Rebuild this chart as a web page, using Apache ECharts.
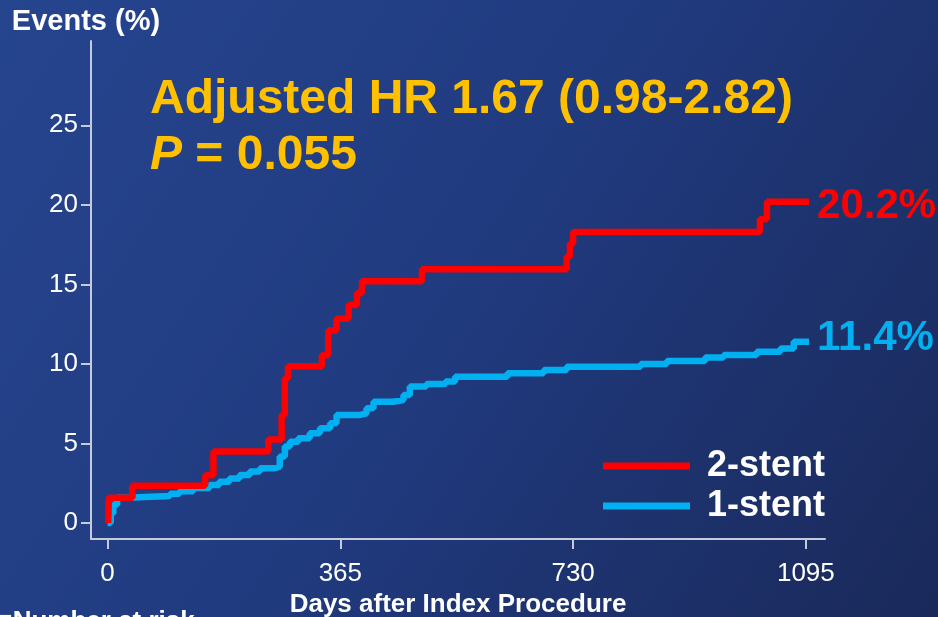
<!DOCTYPE html>
<html>
<head>
<meta charset="utf-8">
<style>
  html, body { margin: 0; padding: 0; }
  #chart { width: 938px; height: 617px; }
</style>
<script src="https://cdn.jsdelivr.net/npm/echarts@6/dist/echarts.min.js"></script>
</head>
<body>
<div id="chart"></div>
<script>
// Cumulative event rates (Kaplan-Meier style), days after index procedure
const twoStentDays = [1, 2, 39, 153, 166, 252, 273, 278, 283, 336, 346, 359, 378, 391, 399, 493, 720, 725, 730, 1023, 1034, 1100];
const twoStentPct  = [0, 1.6, 2.35, 3.0, 4.5, 5.25, 6.8, 9.1, 9.85, 10.55, 12.1, 12.85, 13.7, 14.45, 15.2, 15.95, 16.75, 17.55, 18.3, 19.1, 20.2, 20.2];

const oneStentDays = [0, 5, 9, 15, 30, 98, 113, 134, 160, 175, 191, 207, 223, 239, 262, 270, 278, 286, 299, 317, 333, 349, 359, 396, 406, 417, 448, 464, 474, 500, 530, 545, 627, 684, 720, 836, 877, 937, 966, 1018, 1055, 1076, 1100];
const oneStentPct  = [0, 0.6, 1.15, 1.6, 1.7, 1.85, 2.0, 2.2, 2.4, 2.6, 2.8, 3.03, 3.24, 3.45, 3.55, 4.18, 4.81, 5.12, 5.33, 5.65, 5.96, 6.28, 6.8, 6.9, 7.22, 7.63, 7.74, 8.05, 8.58, 8.74, 8.9, 9.2, 9.42, 9.62, 9.83, 10.0, 10.19, 10.4, 10.57, 10.77, 10.98, 11.4, 11.4];

const seriesNames = ['2-stent', '1-stent'];
const xTicks = [0, 365, 730, 1095];
const yTicks = [0, 5, 10, 15, 20, 25];

const zip = (xs, ys) => xs.map((x, i) => [x, ys[i]]);

const RED = '#FF0000';
const BLUE = '#00B0F0';
const GOLD = '#FFC000';
const AXIS = '#c5cbdc';
const FONT = '"Liberation Sans", Arial, sans-serif';

const chart = echarts.init(document.getElementById('chart'), null, { renderer: 'canvas' });

const endLabel = (color, offsetY) => ({
  show: true,
  color: color,
  fontFamily: FONT,
  fontWeight: 'bold',
  fontSize: 42,
  distance: 8,
  offset: [0, offsetY],
  formatter: p => p.value[1].toFixed(1) + '%'
});

chart.setOption({
  animation: false,
  backgroundColor: new echarts.graphic.LinearGradient(0, 0, 1, 1, [
    { offset: 0, color: '#26458f' },
    { offset: 0.5, color: '#203a7e' },
    { offset: 1, color: '#1a295a' }
  ]),
  textStyle: { fontFamily: FONT },
  title: {
    left: 150,
    top: 72,
    padding: 0,
    text: '{a|Adjusted HR 1.67 (0.98-2.82)}\n{i|P}{a| = 0.055}',
    textStyle: {
      rich: {
        a: { color: GOLD, fontFamily: FONT, fontWeight: 'bold', fontSize: 48, lineHeight: 56 },
        i: { color: GOLD, fontFamily: FONT, fontWeight: 'bold', fontStyle: 'italic', fontSize: 48, lineHeight: 56 }
      }
    }
  },
  legend: {
    data: seriesNames,
    orient: 'vertical',
    left: 603,
    top: 448,
    padding: 0,
    icon: 'rect',
    itemWidth: 87,
    itemHeight: 7,
    itemGap: 4,
    textStyle: {
      color: '#ffffff',
      fontFamily: FONT,
      fontWeight: 'bold',
      fontSize: 36,
      padding: [0, 0, 0, 12]
    }
  },
  grid: { left: 91, right: 113, top: 41, bottom: 78, containLabel: false, outerBoundsMode: 'none' },
  xAxis: {
    type: 'value',
    min: -26,
    max: 1125,
    name: 'Days after Index Procedure',
    nameLocation: 'middle',
    nameGap: 52,
    nameTextStyle: { color: '#ffffff', fontFamily: FONT, fontWeight: 'bold', fontSize: 26 },
    axisLine: { show: true, onZero: false, lineStyle: { color: AXIS, width: 2 } },
    axisTick: { show: true, length: 10, customValues: xTicks, lineStyle: { color: AXIS, width: 2 } },
    axisLabel: { color: '#ffffff', fontSize: 26, margin: 22, customValues: xTicks, fontFamily: FONT, formatter: v => String(v) },
    splitLine: { show: false }
  },
  yAxis: {
    type: 'value',
    min: -1,
    max: 30.3,
    name: 'Events (%)',
    nameLocation: 'end',
    nameGap: 5,
    nameTextStyle: { color: '#ffffff', fontFamily: FONT, fontWeight: 'bold', fontSize: 29, align: 'center', padding: [0, 10, 0, 0] },
    axisLine: { show: true, onZero: false, lineStyle: { color: AXIS, width: 2 } },
    axisTick: { show: true, length: 10, customValues: yTicks, lineStyle: { color: AXIS, width: 2 } },
    axisLabel: { color: '#ffffff', fontSize: 26, margin: 13, customValues: yTicks, fontFamily: FONT, formatter: v => String(v) },
    splitLine: { show: false }
  },
  graphic: [{
    type: 'text',
    left: -3,
    top: 609,
    style: {
      text: '\u25A0Number at risk',
      fill: '#ffffff',
      font: 'bold 26px ' + FONT
    }
  }],
  series: [
    {
      name: '1-stent',
      type: 'line',
      step: 'end',
      data: zip(oneStentDays, oneStentPct),
      showSymbol: false,
      symbol: 'none',
      lineStyle: { color: BLUE, width: 6.5 },
      itemStyle: { color: BLUE },
      endLabel: endLabel(BLUE, -3),
      z: 2
    },
    {
      name: '2-stent',
      type: 'line',
      step: 'end',
      data: zip(twoStentDays, twoStentPct),
      showSymbol: false,
      symbol: 'none',
      lineStyle: { color: RED, width: 6.5 },
      itemStyle: { color: RED },
      endLabel: endLabel(RED, 5),
      z: 3
    }
  ]
});
</script>
</body>
</html>
